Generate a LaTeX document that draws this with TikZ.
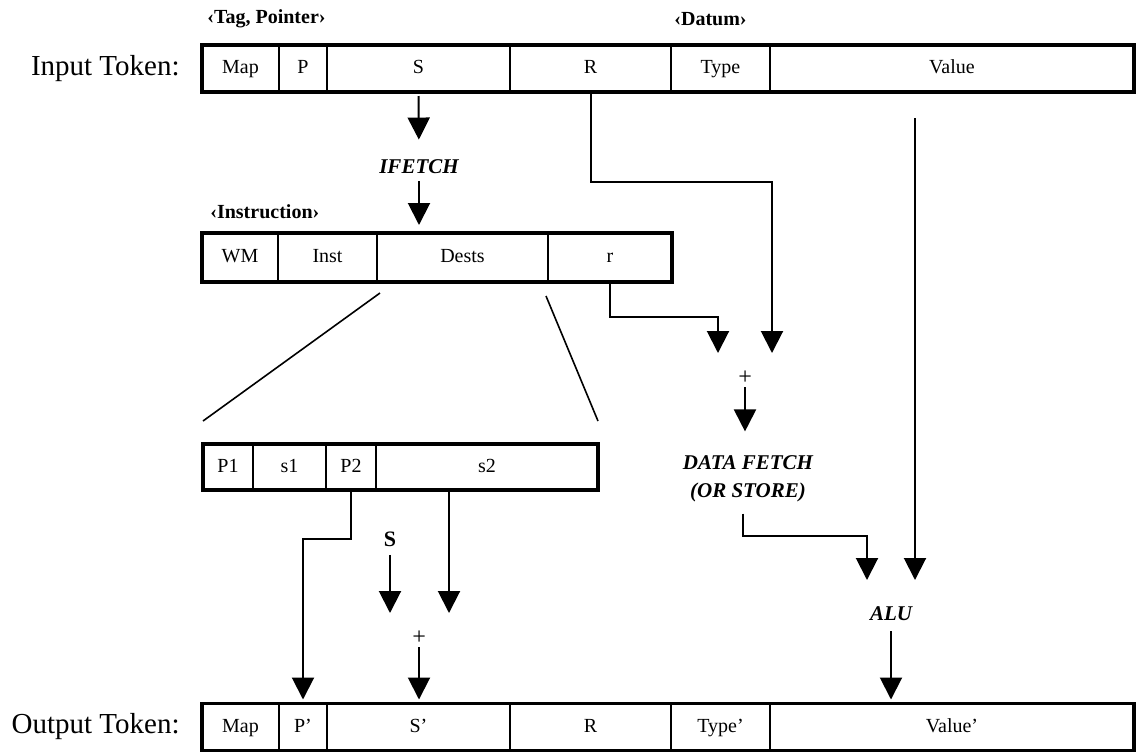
\documentclass[tikz,border=0pt]{standalone}
\usepackage{fontspec}
\setmainfont{Liberation Serif}
\usetikzlibrary{arrows.meta, positioning}

\tikzset{
  cell/.style={draw, line width=0.8pt, inner sep=0pt, outer sep=0pt,
    minimum height=23.5pt, text height=7pt, text depth=2pt,
    font=\fontsize{10}{12}\selectfont},
  outline/.style={line width=1.8pt},
  arr/.style={-{Triangle[width=11pt,length=11pt]}, line width=1pt},
  fan/.style={line width=0.8pt},
  head/.style={font=\bfseries\fontsize{10}{12}\selectfont, anchor=west, inner sep=0pt},
  stage/.style={font=\bfseries\itshape\fontsize{10.5}{14}\selectfont, align=center, inner sep=1pt},
  sidelbl/.style={font=\fontsize{14.5}{18}\selectfont, anchor=east, inner sep=0pt},
  plusmark/.style={font=\itshape\fontsize{12}{14}\selectfont, inner sep=1pt},
  lbl/.style={font=\bfseries\fontsize{11}{13}\selectfont, inner sep=1pt}
}

\begin{document}
\begin{tikzpicture}[x=0.5pt, y=-0.5pt]
\useasboundingbox (0,0) rectangle (1136,751);

% input token
\node[sidelbl] (inlbl) at (180,69) {Input Token:};
\node[head] (tagp) at (207,19) {‹Tag, Pointer›};
\node[head] (datum) at (674,19) {‹Datum›};
\node[cell, minimum width=38.5pt] (imap) at (240.5,68.5) {Map};
\node[cell, minimum width=24pt] (ip) at (303,68.5) {P};
\node[cell, minimum width=91.5pt] (is) at (418.5,68.5) {S};
\node[cell, minimum width=80.5pt] (ir) at (590.5,68.5) {R};
\node[cell, minimum width=49.5pt] (itype) at (720.5,68.5) {Type};
\node[cell, minimum width=182pt] (ivalue) at (952,68.5) {Value};
\draw[outline] (imap.north west) rectangle (ivalue.south east);

% instruction
\node[stage] (ifetch) at (419,167) {IFETCH};
\node[head] (instlbl) at (210,212) {‹Instruction›};
\node[cell, minimum width=38pt, minimum height=24.5pt] (wm) at (240,257.5) {WM};
\node[cell, minimum width=49.5pt, minimum height=24.5pt] (inst) at (327.5,257.5) {Inst};
\node[cell, minimum width=85.5pt, minimum height=24.5pt] (dests) at (462.5,257.5) {Dests};
\node[cell, minimum width=62pt, minimum height=24.5pt] (rfld) at (610,257.5) {r};
\draw[outline] (wm.north west) rectangle (rfld.south east);

\draw[arr, shorten <=2pt, shorten >=9pt] (is.south) -- (ifetch.north);
\draw[arr, shorten <=2.5pt, shorten >=4pt] (ifetch.south) -- (ifetch.south |- dests.north);

% dests fields
\node[cell, minimum width=25pt, minimum height=23pt] (pa) at (228,467) {P1};
\node[cell, minimum width=36.5pt, minimum height=23pt] (sa) at (289.5,467) {s1};
\node[cell, minimum width=25pt, minimum height=23pt] (pb) at (351,467) {P2};
\node[cell, minimum width=111pt, minimum height=23pt] (sb) at (487,467) {s2};
\draw[outline] (pa.north west) rectangle (sb.south east);
\draw[fan] ([xshift=1.5pt,yshift=-5.5pt]dests.south west) -- ([yshift=11.5pt]pa.north west);
\draw[fan] ([xshift=-1pt,yshift=-7pt]dests.south east) -- ([yshift=11.5pt]sb.north east);

% address and data path
\coordinate (tipr) at (718,353);
\coordinate (tipR) at (772,353);
\node[plusmark] (plusa) at (745,378) {+};
\node[stage] (fetch) at (748,479) {DATA FETCH\\(OR STORE)};
\coordinate (tipf) at (867,580);
\coordinate (tipv) at (915,580);
\node[stage] (alu) at (891,614) {ALU};

\draw[arr] (ir.south) -- ++(0,90) -| (tipR);
\draw[arr] (rfld.south) -- ++(0,35) -| (tipr);
\draw[arr, shorten >=11pt] (plusa.south) -- (plusa.south |- fetch.north);
\draw[arr] ([xshift=-2.5pt,yshift=-4.5pt]fetch.south) -- ++(0,22) -| (tipf);
\draw[arr] ([xshift=-18.5pt,yshift=-13pt]ivalue.south) -- (tipv);

% new destination
\node[lbl] (sin) at (390,539) {S};
\coordinate (tips) at (390,613);
\coordinate (tipsb) at (449,613);
\node[plusmark] (plusb) at (419,638) {+};
\draw[arr, shorten <=3pt] (sin.south) -- (tips);
\draw[arr] ([xshift=-19pt]sb.south) -- (tipsb);

% output token
\node[sidelbl] (outlbl) at (180,727) {Output Token:};
\node[cell, minimum width=38.5pt] (omap) at (240.5,727) {Map};
\node[cell, minimum width=24pt] (op) at (303,727) {P'};
\node[cell, minimum width=91.5pt] (os) at (418.5,727) {S'};
\node[cell, minimum width=80.5pt] (or) at (590.5,727) {R};
\node[cell, minimum width=49.5pt] (otype) at (720.5,727) {Type'};
\node[cell, minimum width=182pt] (ovalue) at (952,727) {Value'};
\draw[outline] (omap.north west) rectangle (ovalue.south east);

\draw[arr, shorten >=2pt] (pb.south) -- ++(0,49) -| (op.north);
\draw[arr, shorten >=2pt] (plusb.south) -- (plusb.south |- os.north);
\draw[arr, shorten <=4pt, shorten >=2pt] (alu.south) -- (alu.south |- ovalue.north);
\end{tikzpicture}
\end{document}
